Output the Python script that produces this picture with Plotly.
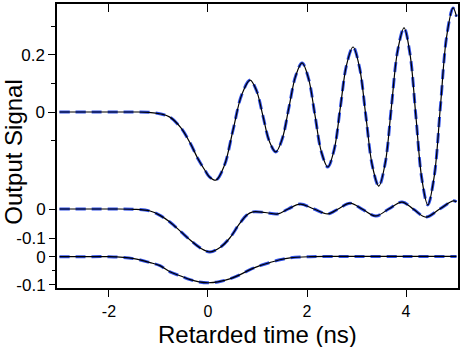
import plotly.graph_objects as go

# upper trace: strongly oscillating output signal
time_top = [-3.0, -2.0, -1.5, -1.2, -0.95, -0.77, -0.55, -0.36, -0.2, -0.05, 0.03, 0.16,
            0.33, 0.505, 0.68, 0.85, 0.98, 1.11, 1.24, 1.37, 1.5, 1.635, 1.77, 1.9,
            2.03, 2.16, 2.29, 2.42, 2.55, 2.675, 2.8, 2.93, 3.06, 3.19, 3.32, 3.45,
            3.58, 3.705, 3.83, 3.96, 4.08, 4.2, 4.32, 4.44, 4.57, 4.695, 4.82, 4.95, 5.02]
signal_top = [0.0, 0.0, 0.0, -0.001, -0.007, -0.018, -0.055, -0.109, -0.165, -0.208, -0.228, -0.239,
              -0.188, -0.064, 0.06, 0.112, 0.075, -0.014, -0.103, -0.14, -0.094, 0.016, 0.126, 0.172,
              0.118, -0.01, -0.14, -0.193, -0.131, 0.018, 0.166, 0.228, 0.157, -0.016, -0.189, -0.26,
              -0.179, 0.018, 0.214, 0.295, 0.204, -0.016, -0.235, -0.326, -0.225, 0.02, 0.264, 0.365, 0.335]

# middle trace: weak oscillation
time_mid = [-3.0, -2.0, -1.5, -1.17, -0.97, -0.77, -0.55, -0.36, -0.15, 0.04, 0.25, 0.44,
            0.62, 0.79, 0.91, 1.15, 1.41, 1.62, 1.86, 2.14, 2.42, 2.65, 2.87, 3.13,
            3.39, 3.65, 3.92, 4.16, 4.4, 4.68, 4.95, 5.02]
signal_mid = [0.0, 0.0, -0.001, -0.007, -0.022, -0.045, -0.078, -0.107, -0.135, -0.148, -0.132, -0.1,
              -0.055, -0.02, -0.01, -0.012, -0.017, 0.0, 0.017, 0.0, -0.017, 0.002, 0.02, -0.002,
              -0.024, 0.0, 0.024, -0.002, -0.028, 0.0, 0.028, 0.025]

# lower trace: single dip
time_bot = [-3.0, -2.5, -2.0, -1.5, -1.17, -0.97, -0.77, -0.55, -0.36, -0.18, 0.0, 0.2,
            0.44, 0.65, 0.85, 1.05, 1.25, 1.45, 1.66, 2.06, 2.5, 3.0, 4.0, 5.02]
signal_bot = [0.0, 0.0, 0.0, -0.007, -0.021, -0.032, -0.054, -0.069, -0.082, -0.09, -0.093, -0.09,
              -0.079, -0.064, -0.046, -0.032, -0.021, -0.011, -0.004, 0.0, 0.001, 0.001, 0.001, 0.001]

x_ticks = [-2, 0, 2, 4]
x_labels = ["-2", "0", "2", "4"]
top_ticks, top_labels, top_minor = [0, 0.2], ["0", "0.2"], [-0.1, 0.1, 0.3]
mid_ticks, mid_labels = [-0.1, 0], ["-0.1", "0"]
bot_ticks, bot_labels, bot_minor = [-0.1, 0], ["-0.1", "0"], [-0.05]

BLUE = "#3050e8"
FONT = "Liberation Sans, Arial, Helvetica, sans-serif"

fig = go.Figure()
for t, v, ax in [(time_top, signal_top, "y"), (time_mid, signal_mid, "y2"), (time_bot, signal_bot, "y3")]:
    fig.add_trace(go.Scatter(x=t, y=v, yaxis=ax, mode="lines", hoverinfo="skip",
                             line=dict(color=BLUE, width=3, dash="10px,6px", shape="spline")))
    fig.add_trace(go.Scatter(x=t, y=v, yaxis=ax, mode="lines",
                             line=dict(color="black", width=1.2, shape="spline")))

# dummy trace so the top tick axis gets drawn
fig.add_trace(go.Scatter(x=[0], y=[0], xaxis="x2", mode="markers", marker=dict(opacity=0), hoverinfo="skip"))


def y_axis(rng, ticks, labels, minor=None, **kw):
    d = dict(range=rng, tickmode="array", tickvals=ticks, ticktext=labels, ticks="outside",
             ticklen=7, tickwidth=1.3, tickcolor="black", showgrid=False, zeroline=False,
             automargin=False, fixedrange=True, **kw)
    if minor:
        d["minor"] = dict(tickmode="array", tickvals=minor, ticks="outside", ticklen=4,
                          tickwidth=1.3, tickcolor="black", showgrid=False)
    return d


fig.update_layout(
    width=463,
    height=347,
    margin=dict(l=57, r=5, t=4, b=59),
    paper_bgcolor="white",
    plot_bgcolor="white",
    showlegend=False,
    font=dict(family=FONT, size=17, color="black"),
    xaxis=dict(range=[-3.05, 5.05], tickmode="array", tickvals=x_ticks, ticktext=x_labels,
               ticks="outside", ticklen=7, tickwidth=1.3, tickcolor="black", ticklabelstandoff=1,
               tickfont=dict(size=16),
               showline=True, linewidth=1.5, linecolor="black", mirror=True,
               showgrid=False, zeroline=False, automargin=False, fixedrange=True),
    xaxis2=dict(overlaying="x", side="top", range=[-3.05, 5.05], tickmode="array", tickvals=x_ticks,
                ticks="inside", ticklen=8, tickwidth=1.3, tickcolor="black", automargin=False,
                showticklabels=False, showgrid=False, zeroline=False, showline=False, fixedrange=True),
    yaxis=y_axis([-0.6175, 0.3789], top_ticks, top_labels, top_minor,
                 showline=True, linewidth=1.5, linecolor="black", mirror=True),
    yaxis2=y_axis([-0.2724, 0.7069], mid_ticks, mid_labels, overlaying="y", anchor="x", side="left"),
    yaxis3=y_axis([-0.1118, 0.9025], bot_ticks, bot_labels, bot_minor, overlaying="y", anchor="x", side="left"),
    annotations=[
        dict(text="Retarded time (ns)", xref="paper", yref="paper", x=0.5, y=-0.165,
             xanchor="center", yanchor="middle", showarrow=False, font=dict(size=24)),
        dict(text="Output Signal", xref="paper", yref="paper", x=-0.108, y=0.479,
             xanchor="center", yanchor="middle", textangle=-90, showarrow=False, font=dict(size=24)),
    ],
)

# the page's default body margin would push the figure off the window
fig.write_html("out.html", config={"displayModeBar": False},
               post_script="document.body.style.margin='0';")
